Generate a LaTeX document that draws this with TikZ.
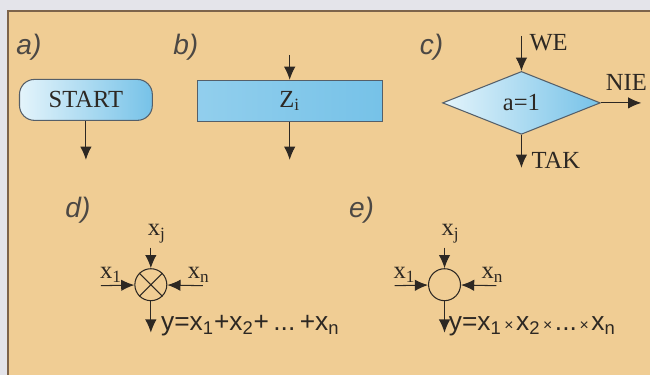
\documentclass[tikz,border=0pt]{standalone}
\usepackage{fontspec}
\setmainfont{Liberation Serif}
\newfontfamily\lblfont{Liberation Sans}
\usetikzlibrary{shapes.geometric,arrows.meta}
\definecolor{panel}{RGB}{240,205,148}
\definecolor{strip}{RGB}{228,228,234}
\definecolor{edge}{RGB}{125,100,75}
\definecolor{boxline}{RGB}{85,95,105}
\definecolor{bluelight}{RGB}{228,244,251}
\definecolor{bluedark}{RGB}{118,194,232}
\definecolor{ink}{RGB}{45,40,35}
\newcommand{\tms}{{\fontsize{9}{9}\selectfont\,×\,}}
\begin{document}
\begin{tikzpicture}[
      x=0.02cm, y=-0.02cm,
      blk/.style={draw=boxline, semithick, left color=bluelight, right color=bluedark,
                  text=ink, font=\fontsize{14}{14}\selectfont, inner sep=0pt},
      lbl/.style={font=\lblfont\itshape\fontsize{16}{16}\selectfont, text=ink!85},
      var/.style={font=\fontsize{14}{14}\selectfont, text=ink, inner sep=1pt},
      frm/.style={font=\lblfont\fontsize{15}{15}\selectfont, text=ink, inner sep=0pt},
      knot/.style={circle, draw=ink, semithick, minimum size=0.64cm, inner sep=0pt},
      arr/.style={-{Latex[length=7.5pt,width=6.5pt]}, draw=ink, semithick}
    ]
    % Background
    \fill[strip] (0,0) rectangle (651,375);
    \fill[panel] (8,11) rectangle (651,375);
    \draw[edge, thick] (8,375) -- (8,11) -- (651,11);
    % a) start
    \node[lbl] (la) at (29,47) {a)};
    \node[blk, rounded corners=0.3cm, minimum width=2.66cm, minimum height=0.82cm]
      (start) at (86,100) {START};
    \coordinate (aout) at (86,160);
    \draw[arr] (start) -- (aout);
    % b) process
    \node[lbl] (lb) at (186,47) {b)};
    \node[blk, minimum width=3.7cm, minimum height=0.82cm,
          left color=bluedark!75!bluelight, middle color=bluelight, right color=bluedark]
      (proc) at (290,101) {Z\textsubscript{i}};
    \coordinate (bin) at (290,55);
    \coordinate (bout) at (290,160);
    \draw[arr] (bin) -- (proc);
    \draw[arr] (proc) -- (bout);
    % c) decision
    \node[lbl] (lc) at (432,47) {c)};
    \node[blk, diamond, minimum width=3.16cm, minimum height=1.26cm] (dec) at (522,103)
      {a=1};
    \coordinate (cin) at (522,36);
    \coordinate (cno) at (642,103);
    \coordinate (cyes) at (522,168);
    \draw[arr] (cin) -- (dec);
    \draw[arr] (dec.east) -- (cno);
    \draw[arr] (dec.south) -- (cyes);
    \node[var, anchor=west] (we) at (528,43) {WE};
    \node[var] (nie) at (627,83) {NIE};
    \node[var, anchor=west] (tak) at (530,161) {TAK};
    % d) summing node
    \node[lbl] (ld) at (78,210) {d)};
    \node[knot] (sum) at (151,285) {};
    \draw[ink, semithick] (sum.north west) -- (sum.south east)
      (sum.north east) -- (sum.south west);
    \node[var] (dj) at (157,234) {x\textsubscript{j}};
    \node[var] (d1) at (111,275) {x\textsubscript{1}};
    \node[var] (dn) at (199,275) {x\textsubscript{n}};
    \coordinate (dtop) at (151,248);
    \coordinate (dleft) at (101,286);
    \coordinate (dright) at (203,286);
    \coordinate (dout) at (151,333);
    \draw[arr] (dtop) -- (sum);
    \draw[arr] (dleft) -- (sum);
    \draw[arr] (dright) -- (sum);
    \draw[arr] (sum) -- (dout);
    \node[frm, anchor=south west] (dsum) at (161,337)
      {y=x\textsubscript{1}+x\textsubscript{2}+\,...\,+x\textsubscript{n}};
    % e) product node
    \node[lbl] (le) at (362,210) {e)};
    \node[knot] (prod) at (445,285) {};
    \node[var] (ej) at (451,234) {x\textsubscript{j}};
    \node[var] (e1) at (405,275) {x\textsubscript{1}};
    \node[var] (en) at (493,275) {x\textsubscript{n}};
    \coordinate (etop) at (445,248);
    \coordinate (eleft) at (395,286);
    \coordinate (eright) at (497,286);
    \coordinate (eout) at (445,333);
    \draw[arr] (etop) -- (prod);
    \draw[arr] (eleft) -- (prod);
    \draw[arr] (eright) -- (prod);
    \draw[arr] (prod) -- (eout);
    \node[frm, anchor=south west] (eprod) at (449,337)
      {y=x\textsubscript{1}\tms x\textsubscript{2}\tms...\tms x\textsubscript{n}};
  \end{tikzpicture}
\end{document}
